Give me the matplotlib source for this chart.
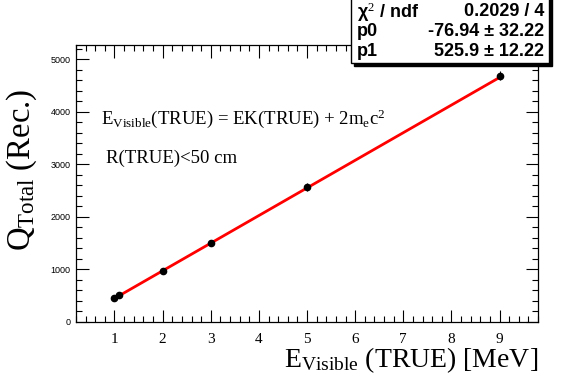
import matplotlib.pyplot as plt
from matplotlib.patches import Rectangle
from matplotlib.ticker import MultipleLocator
import numpy as np

# data
energy = [1.0, 1.1, 2.0, 3.0, 5.0, 9.0]
charge = [462, 505, 975, 1510, 2570, 4690]
charge_err = [15, 15, 20, 25, 80, 85]

p0 = -76.94
p1 = 525.9
fit_range = [1.08, 9.0]

stat_names = ["χ$^2$ / ndf", "p0", "p1"]
stat_values = ["0.2029 / 4", "-76.94 ± 32.22", "525.9 ± 12.22"]

plt.rcParams["font.family"] = ["Liberation Serif", "DejaVu Serif"]
plt.rcParams["mathtext.fontset"] = "custom"
plt.rcParams["mathtext.rm"] = "Liberation Serif"
plt.rcParams["mathtext.it"] = "Liberation Serif:italic"

fig = plt.figure(figsize=(5.67, 3.84), dpi=100)
ax = fig.add_axes([0.134, 0.1615, 0.815, 0.7215])

ax.errorbar(energy, charge, yerr=charge_err, fmt="o", color="black",
            markersize=4.5, elinewidth=0.8, capsize=0, zorder=3)
xf = np.array(fit_range)
ax.plot(xf, p0 + p1 * xf, color="red", lw=2, zorder=2)

ax.set_xlim(0.2, 9.8)
ax.set_ylim(0, 5275)
ax.xaxis.set_major_locator(MultipleLocator(1))
ax.xaxis.set_minor_locator(MultipleLocator(0.2))
ax.yaxis.set_major_locator(MultipleLocator(1000))
ax.yaxis.set_minor_locator(MultipleLocator(200))
ax.tick_params(which="both", direction="in", top=True, right=True)
ax.tick_params(which="major", length=9, width=0.8)
ax.tick_params(which="minor", length=4.5, width=0.8)
ax.tick_params(axis="x", labelsize=11, pad=8)
ax.tick_params(axis="y", labelsize=6.5, pad=4)
for lab in ax.get_yticklabels():
    lab.set_family("Liberation Sans")
for s in ax.spines.values():
    s.set_linewidth(0.9)

fig.text(0.949, 0.045, r"$\mathregular{E_{Visible}}$ (TRUE) [MeV]",
         ha="right", va="baseline", fontsize=20)
fig.text(0.038, 1 - 170 / 384, r"$\mathregular{Q_{Total}}$ (Rec.)",
         ha="center", va="center", rotation=90, fontsize=23.5)

ax.text(0.055, 0.715, r"$\mathregular{E_{Visible}}$(TRUE) = EK(TRUE) + 2$\mathregular{m_{e}c^{2}}$",
        transform=ax.transAxes, fontsize=13.5)
ax.text(0.065, 0.575, "R(TRUE)<50 cm", transform=ax.transAxes, fontsize=13.5)

# stats box
bx0, bx1 = 351 / 567, 549 / 567
by0, by1 = 1 - 63 / 384, 1.01
dx, dy = 3 / 567, 3 / 384
fig.patches.append(Rectangle((bx0 + dx, by0 - dy), bx1 - bx0, by1 - by0,
                             transform=fig.transFigure, facecolor="black",
                             edgecolor="black", zorder=5))
fig.patches.append(Rectangle((bx0, by0), bx1 - bx0, by1 - by0,
                             transform=fig.transFigure, facecolor="white",
                             edgecolor="black", lw=1, zorder=6))
rows_y = [12, 32, 52]
for name, val, yy in zip(stat_names, stat_values, rows_y):
    fig.text(357 / 567, 1 - yy / 384, name, ha="left", va="center",
             fontsize=13, fontweight="bold", family="Liberation Sans", zorder=7)
    fig.text(544 / 567, 1 - yy / 384, val, ha="right", va="center",
             fontsize=13, fontweight="bold", family="Liberation Sans", zorder=7)

fig.savefig("out.png", dpi=100)
